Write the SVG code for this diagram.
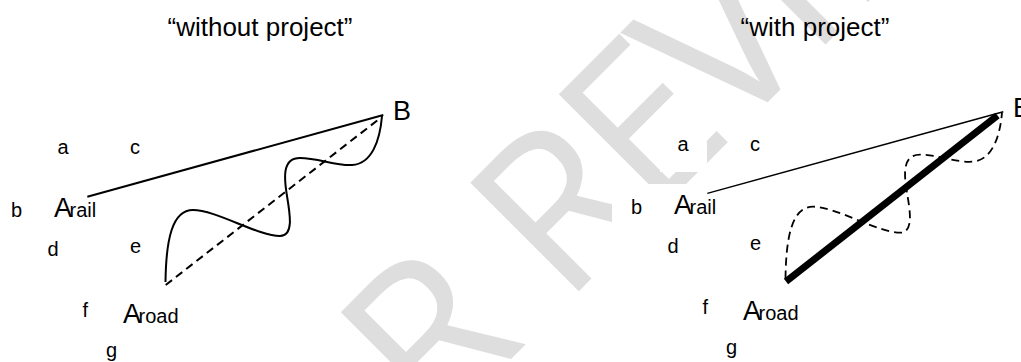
<svg xmlns="http://www.w3.org/2000/svg" width="1021" height="362" viewBox="0 0 1021 362">
  <defs>
    <style>
      .t{font-family:"Liberation Sans",Arial,sans-serif;fill:#000}
      .title{font-size:26px;text-anchor:middle}
      .lbl{font-size:20px}
      .big{font-size:27px}
      .sub{font-size:20px}
      .bg{fill:#fff}
      .solid{fill:none;stroke:#000;stroke-width:2}
      .thin{fill:none;stroke:#000;stroke-width:1.5}
      .dash{fill:none;stroke:#000;stroke-width:2;stroke-dasharray:8 5}
      .dashw{fill:none;stroke:#000;stroke-width:1.8;stroke-dasharray:8 5}
      .heavy{fill:none;stroke:#000;stroke-width:7;stroke-linecap:butt}
      .wm{font-family:"Open Sans","Noto Sans",sans-serif;font-size:215px;fill:#dedede}
    </style>
  </defs>

  <rect width="1021" height="362" fill="#fff"/>

  <!-- review stamp across the sheet -->
  <text class="wm" transform="translate(564,306) rotate(-45)" x="-459 -351 -183 -100 0 125 233 349 409 519" y="0">FOR REVIEW</text>

  <!-- label backdrops, right panel -->
  <g id="backdrops">
    <rect class="bg" x="660" y="118" width="47" height="54"/>
    <rect class="bg" x="612" y="184" width="123" height="48"/>
  </g>

  <!-- titles -->
  <g id="title-without">
    <text class="t title" x="260" y="36">“without project”</text>
  </g>
  <g id="title-with">
    <text class="t title" x="815" y="36">“with project”</text>
  </g>

  <!-- connectors -->
  <g id="connectors">
    <!-- without project -->
    <line class="solid" x1="87.3" y1="196.7" x2="383.3" y2="115"/>
    <line class="dash" x1="165.7" y1="285" x2="380" y2="118.3"/>
    <path class="solid" d="M165.5,282 C166,240 172,210 193,210 C216,210 258,236 280,236 C294,236 290,214 287,196 C284,178 282,158 300,158 C318,158 336,166 352,165 C372,164 380,140 382,116"/>
    <!-- with project -->
    <line class="thin" x1="707.3" y1="193.4" x2="1003.3" y2="111.7"/>
    <path class="dashw" d="M785.5,278.7 C786,236.7 792,206.7 813,206.7 C836,206.7 878,232.7 900,232.7 C914,232.7 910,210.7 907,192.7 C904,174.7 902,154.7 920,154.7 C938,154.7 956,162.7 972,161.7 C992,160.7 1000,136.7 1002,112.7"/>
    <line class="heavy" x1="786" y1="281.5" x2="997.5" y2="115.5"/>
  </g>

  <!-- without project: nodes -->
  <g id="l-a"><text class="t lbl" x="57.5" y="154">a</text></g>
  <g id="l-c"><text class="t lbl" x="130" y="154">c</text></g>
  <g id="l-b"><text class="t lbl" x="11" y="217">b</text></g>
  <g id="l-Arail"><text class="t big" x="54" y="217">A<tspan class="sub" dx="-2.5">rail</tspan></text></g>
  <g id="l-d"><text class="t lbl" x="47.6" y="256">d</text></g>
  <g id="l-e"><text class="t lbl" x="130" y="253">e</text></g>
  <g id="l-f"><text class="t lbl" x="82.5" y="317">f</text></g>
  <g id="l-Aroad"><text class="t big" x="123" y="323">A<tspan class="sub" dx="-2.5">road</tspan></text></g>
  <g id="l-g"><text class="t lbl" x="106" y="357">g</text></g>
  <g id="l-B"><text class="t big" x="393" y="120">B</text></g>

  <!-- with project: nodes -->
  <g id="r-a"><text class="t lbl" x="677.5" y="150.7">a</text></g>
  <g id="r-c"><text class="t lbl" x="750" y="150.7">c</text></g>
  <g id="r-b"><text class="t lbl" x="631" y="213.7">b</text></g>
  <g id="r-Arail"><text class="t big" x="674" y="213.7">A<tspan class="sub" dx="-2.5">rail</tspan></text></g>
  <g id="r-d"><text class="t lbl" x="667.6" y="252.7">d</text></g>
  <g id="r-e"><text class="t lbl" x="750" y="249.7">e</text></g>
  <g id="r-f"><text class="t lbl" x="702.5" y="313.7">f</text></g>
  <g id="r-Aroad"><text class="t big" x="743" y="319.7">A<tspan class="sub" dx="-2.5">road</tspan></text></g>
  <g id="r-g"><text class="t lbl" x="726" y="353.7">g</text></g>
  <g id="r-B"><text class="t big" x="1013" y="116.7">B</text></g>
</svg>
